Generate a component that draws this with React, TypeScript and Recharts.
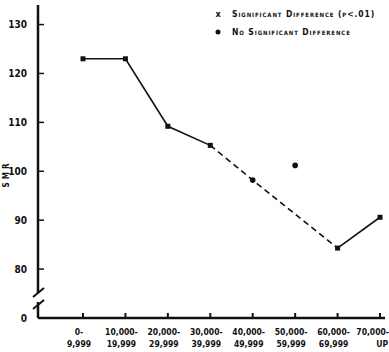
import { ComposedChart, Line, XAxis, YAxis } from "recharts";

const incomeFrom = ["0-", "10,000-", "20,000-", "30,000-", "40,000-", "50,000-", "60,000-", "70,000-"];
const incomeTo = ["9,999", "19,999", "29,999", "39,999", "49,999", "59,999", "69,999", "UP"];

// SMR; the trend is split into solid / dashed pieces
const upperSolid = [123, 123, 109.2, 105.3, null, null, null, null];
const dashedTrend = [null, null, null, 105.3, 98.2, null, 84.3, null];
const lowerSolid = [null, null, null, null, null, null, 84.3, 90.6];
const notSignificant = [null, null, null, null, 98.2, 101.2, null, null];

const yTicks = [70, 80, 90, 100, 110, 120, 130];

const data = incomeFrom.map((from, i) => ({
  bracket: from,
  upper: upperSolid[i],
  dashed: dashedTrend[i],
  lower: lowerSolid[i],
  ns: notSignificant[i],
}));

const FONT = "'DejaVu Sans Condensed', sans-serif";
const NARROW = "'Liberation Sans Narrow', 'DejaVu Sans Condensed', sans-serif";
const INK = "#111";

const SquareDot = (p: any) => {
  if (p.value == null || p.cy == null) return <g key={p.index} />;
  return <rect key={p.index} x={p.cx - 2.5} y={p.cy - 2.5} width={5} height={5} fill={INK} />;
};

const RoundDot = (p: any) => {
  if (p.value == null || p.cy == null) return <g key={p.index} />;
  return <circle key={p.index} cx={p.cx} cy={p.cy} r={2.8} fill={INK} />;
};

const YTick = (p: any) => {
  const v = p.payload.value;
  return (
    <g>
      <line x1={p.x} x2={p.x + 6} y1={p.y} y2={p.y} stroke={INK} strokeWidth={1.5} />
      <text x={p.x - 11} y={p.y + 3.5} textAnchor="end" fontSize={10} fontWeight="bold" fontFamily={NARROW} fill={INK}>
        {v === 70 ? "0" : v}
      </text>
    </g>
  );
};

const XTick = (p: any) => {
  const i = p.index;
  const last = i === incomeFrom.length - 1;
  const tx = last ? p.x + 9 : p.x - 4;
  const anchor = last ? "end" : "middle";
  return (
    <g>
      <line x1={p.x} x2={p.x} y1={p.y} y2={p.y - 5} stroke={INK} strokeWidth={2} />
      <text x={tx} y={p.y + 17} textAnchor={anchor} fontSize={8.5} fontWeight="bold" fontFamily={FONT} fill={INK}>
        {incomeFrom[i]}
      </text>
      <text x={last ? p.x + 8 : tx} y={p.y + 29} textAnchor={last ? "end" : "middle"} fontSize={8.5} fontWeight="bold" fontFamily={FONT} fill={INK}>
        {incomeTo[i]}
      </text>
    </g>
  );
};

export default function App() {
  return (
    <div style={{ position: "relative", width: 389, height: 352, background: "#fff" }}>
      <style>{`body{margin:0}`}</style>
      <ComposedChart width={389} height={352} data={data} margin={{ top: 5, right: 4, left: 0, bottom: 0 }}>
        <XAxis
          dataKey="bracket"
          height={34}
          tickSize={0}
          tickMargin={0}
          padding={{ left: 45, right: 5 }}
          interval={0}
          stroke={INK}
          strokeWidth={2.5}
          tick={<XTick />}
        />
        <YAxis
          width={38}
          domain={[70, 134]}
          ticks={yTicks}
          tickSize={0}
          tickMargin={0}
          stroke={INK}
          strokeWidth={2.5}
          tick={<YTick />}
        />
        <Line dataKey="upper" stroke={INK} strokeWidth={1.6} dot={SquareDot} activeDot={false} isAnimationActive={false} />
        <Line dataKey="dashed" stroke={INK} strokeWidth={1.6} strokeDasharray="6 4" connectNulls dot={false} activeDot={false} isAnimationActive={false} />
        <Line dataKey="lower" stroke={INK} strokeWidth={1.6} dot={SquareDot} activeDot={false} isAnimationActive={false} />
        <Line dataKey="ns" stroke="none" dot={RoundDot} activeDot={false} isAnimationActive={false} />
      </ComposedChart>
      <svg width={389} height={352} style={{ position: "absolute", left: 0, top: 0, pointerEvents: "none" }}>
        {/* axis break */}
        <rect x={33} y={293} width={10} height={9} fill="#fff" />
        <line x1={33} y1={297} x2={44} y2={288} stroke={INK} strokeWidth={2} />
        <line x1={33} y1={309} x2={44} y2={300} stroke={INK} strokeWidth={2} />
        {/* axis title */}
        <text transform="translate(9,174) rotate(-90)" textAnchor="middle" fontSize={8} fontWeight="bold" fontFamily={FONT} letterSpacing={3} fill={INK}>
          SMR
        </text>
        {/* legend */}
        <text x={218} y={17} fontSize={9} fontWeight="bold" fontFamily={FONT} fill={INK} textAnchor="middle">x</text>
        <text x={232} y={17} fontSize={8.5} fontWeight="bold" fontFamily={FONT} fill={INK} style={{ fontVariant: "small-caps" }} letterSpacing={0.9}>
          Significant Difference (p&lt;.01)
        </text>
        <circle cx={218} cy={32} r={2.5} fill={INK} />
        <text x={232} y={35} fontSize={8.5} fontWeight="bold" fontFamily={FONT} fill={INK} style={{ fontVariant: "small-caps" }} letterSpacing={0.9}>
          No Significant Difference
        </text>
      </svg>
    </div>
  );
}
